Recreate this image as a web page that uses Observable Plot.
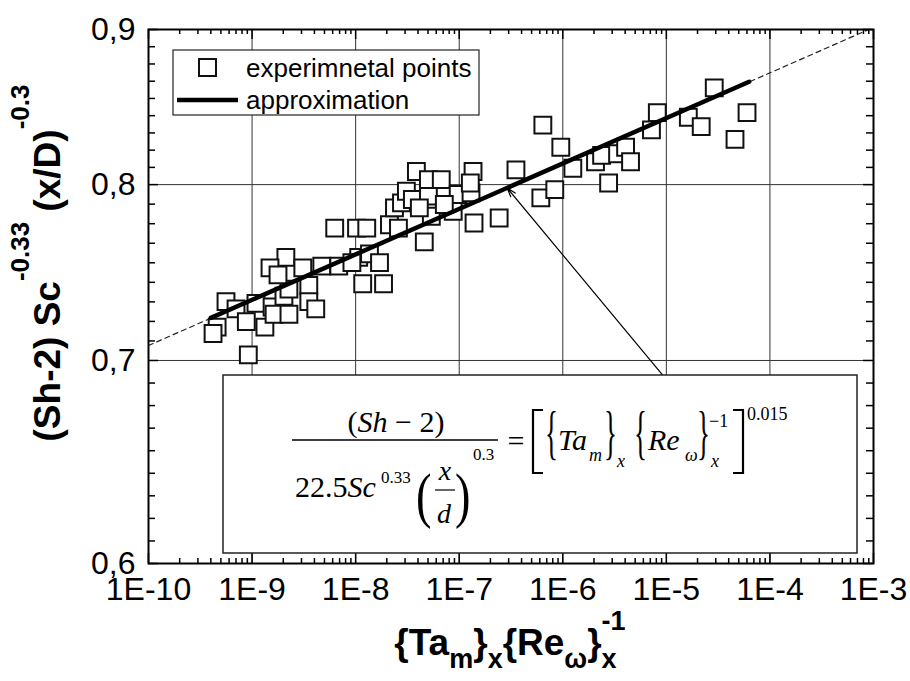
<!DOCTYPE html>
<html><head><meta charset="utf-8">
<script src="https://cdn.jsdelivr.net/npm/d3@7"></script>
<script src="https://cdn.jsdelivr.net/npm/@observablehq/plot@0.6"></script>
<style>html,body{margin:0;padding:0;background:#fff}</style>
</head><body><div id="chart"></div>
<script>
// ---- data ----
const xTicks = [1e-10, 1e-9, 1e-8, 1e-7, 1e-6, 1e-5, 1e-4, 1e-3];
const yTicks = [0.6, 0.7, 0.8, 0.9];
const pointX = [4.6e-10, 4.2e-10, 9.2e-10, 5.6e-10, 7.0e-10, 8.8e-10, 1.09e-9, 1.33e-9, 1.56e-9, 1.63e-9,
  2.27e-9, 2.03e-9, 2.27e-9, 2.12e-9, 1.49e-9, 1.78e-9, 3.09e-9, 4.71e-9, 6.87e-9, 3.53e-9,
  3.53e-9, 4.12e-9, 6.28e-9, 1.02e-8, 1.28e-8, 1.07e-8, 1.36e-8, 1.70e-8, 9.2e-9, 1.17e-8,
  1.86e-8, 2.12e-8, 2.59e-8, 4.60e-8, 2.37e-8, 2.77e-8, 3.09e-8, 3.53e-8, 5.04e-8, 3.86e-8,
  5.04e-8, 6.71e-8, 1.36e-7, 3.53e-7, 5.38e-8, 8.75e-8, 9.77e-8, 1.30e-7, 1.39e-7, 2.43e-7,
  6.14e-7, 8.37e-7, 2.77e-6, 6.42e-7, 9.57e-7, 1.25e-6, 2.07e-6, 2.37e-6, 3.38e-6, 4.04e-6,
  4.51e-6, 8.18e-6, 7.18e-6, 1.63e-5, 2.17e-5, 2.90e-5, 6.01e-5, 4.60e-5, 4.12e-8, 7.18e-8, 1.28e-7];
const pointY = [0.718, 0.7145, 0.703, 0.732, 0.728, 0.721, 0.731, 0.718, 0.729, 0.725,
  0.725, 0.735, 0.739, 0.757, 0.751, 0.747, 0.751, 0.752, 0.752, 0.741,
  0.732, 0.728, 0.774, 0.774, 0.774, 0.757, 0.759, 0.754, 0.754, 0.742,
  0.742, 0.776, 0.774, 0.766, 0.786, 0.789, 0.796, 0.791, 0.793, 0.808,
  0.803, 0.803, 0.808, 0.809, 0.781, 0.784, 0.794, 0.795, 0.777, 0.780,
  0.792, 0.797, 0.801, 0.837, 0.823, 0.810, 0.814, 0.818, 0.819, 0.823,
  0.814, 0.845, 0.834, 0.842, 0.836, 0.861, 0.845, 0.828, 0.786, 0.788, 0.801];
const fitX = [4.0e-10, 6.3e-5];
const fitY = [0.723, 0.865];
const extX = [1e-10, 9.0e-4];
const extY = [0.708, 0.900];
const arrowFrom = [9.3e-6, 0.692];
const arrowTo = [2.9e-7, 0.798];

// ---- layout ----
const W = 910, H = 681, ML = 148, MR = 37, MT = 29, MB = 118;
const FW = W - ML - MR, FH = H - MT - MB;

const points = pointX.map((x, i) => ({x, y: pointY[i]}));
const fit = fitX.map((x, i) => ({x, y: fitY[i]}));
const ext = extX.map((x, i) => ({x, y: extY[i]}));
const xMinor = [];
for (let i = 0; i < xTicks.length - 1; i++) for (let m = 2; m <= 9; m++) xMinor.push(m * xTicks[i]);
const yMinor = [];
for (let i = 0; i < yTicks.length - 1; i++) {
  const a = yTicks[i], b = yTicks[i + 1];
  for (let k = 1; k <= 8; k++) yMinor.push(a * Math.pow(b / a, k / 9));
}

const svg = Plot.plot({
  width: W, height: H,
  marginLeft: ML, marginRight: MR, marginTop: MT, marginBottom: MB,
  x: {type: "log", domain: [1e-10, 1e-3]},
  y: {type: "log", domain: [0.6, 0.9]},
  style: {fontFamily: "'Liberation Sans', Arial, sans-serif", fontSize: "32px", color: "#000", background: "#fff"},
  marks: [
    Plot.ruleX(xTicks.slice(1, -1), {stroke: "#333", strokeWidth: 1}),
    Plot.ruleY([0.7, 0.8], {stroke: "#333", strokeWidth: 1}),
    Plot.line(ext, {x: "x", y: "y", stroke: "#222", strokeWidth: 1.2, strokeDasharray: "5,4"}),
    Plot.dot(points, {x: "x", y: "y", symbol: "square", r: 9.5, fill: "white", stroke: "#111", strokeWidth: 2}),
    Plot.line(fit, {x: "x", y: "y", stroke: "#000", strokeWidth: 4.5}),
    Plot.arrow([{x1: arrowFrom[0], y1: arrowFrom[1], x2: arrowTo[0], y2: arrowTo[1]}],
      {x1: "x1", y1: "y1", x2: "x2", y2: "y2", stroke: "#000", strokeWidth: 1.2, headLength: 12, headAngle: 35}),
    Plot.ruleX(xTicks, {insetTop: FH - 10, stroke: "#000", strokeWidth: 1.5}),
    Plot.ruleX(xTicks, {insetBottom: FH - 10, stroke: "#000", strokeWidth: 1.5}),
    Plot.ruleX(xMinor, {insetTop: FH - 5, stroke: "#000", strokeWidth: 1.5}),
    Plot.ruleX(xMinor, {insetBottom: FH - 5, stroke: "#000", strokeWidth: 1.5}),
    Plot.ruleY(yTicks, {insetRight: FW - 10, stroke: "#000", strokeWidth: 1.5}),
    Plot.ruleY(yTicks, {insetLeft: FW - 10, stroke: "#000", strokeWidth: 1.5}),
    Plot.ruleY(yMinor, {insetRight: FW - 7, stroke: "#000", strokeWidth: 1.5}),
    Plot.ruleY(yMinor, {insetLeft: FW - 7, stroke: "#000", strokeWidth: 1.5}),
    Plot.axisX(xTicks, {tickSize: 0, tickPadding: 14, fontSize: 32, label: null,
      tickFormat: d => "1E" + Math.round(Math.log10(d))}),
    Plot.axisY(yTicks, {tickSize: 0, tickPadding: 13, fontSize: 32, label: null,
      tickFormat: d => d.toFixed(1).replace(".", ",")}),
    Plot.frame({stroke: "#000", strokeWidth: 2})
  ]
});
document.getElementById("chart").appendChild(svg);

const s = d3.select(svg);
const sans = "'Liberation Sans', Arial, sans-serif";
const serif = "'Liberation Serif', 'Times New Roman', serif";

// legend
const lg = s.append("g").attr("text-anchor", "start");
lg.append("rect").attr("x", 173).attr("y", 50).attr("width", 306).attr("height", 65)
  .attr("fill", "#fff").attr("stroke", "#222").attr("stroke-width", 1.2);
lg.append("rect").attr("x", 199).attr("y", 59).attr("width", 17).attr("height", 17)
  .attr("fill", "#fff").attr("stroke", "#111").attr("stroke-width", 2);
lg.append("text").attr("x", 246).attr("y", 68).attr("dy", "0.35em").attr("font-family", sans)
  .attr("font-size", 26).attr("fill", "#000").text("experimnetal points");
lg.append("line").attr("x1", 177).attr("x2", 238).attr("y1", 100).attr("y2", 100)
  .attr("stroke", "#000").attr("stroke-width", 4.5);
lg.append("text").attr("x", 246).attr("y", 100).attr("dy", "0.35em").attr("font-family", sans)
  .attr("font-size", 26).attr("fill", "#000").text("approximation");

// formula box
const fb = s.append("g").attr("font-family", serif).attr("fill", "#000").attr("text-anchor", "start");
fb.append("rect").attr("x", 223).attr("y", 375).attr("width", 634).attr("height", 178)
  .attr("fill", "#fff").attr("stroke", "#222").attr("stroke-width", 1.5);
function t(x, y, size, str, italic, anchor) {
  return fb.append("text").attr("x", x).attr("y", y).attr("font-size", size)
    .attr("font-style", italic ? "italic" : "normal").attr("text-anchor", anchor || "start").text(str);
}
const num = fb.append("text").attr("x", 396).attr("y", 432).attr("font-size", 30).attr("text-anchor", "middle");
num.append("tspan").text("(");
num.append("tspan").attr("font-style", "italic").text("Sh");
num.append("tspan").text(" \u2212 2)");
fb.append("line").attr("x1", 292).attr("x2", 498).attr("y1", 440).attr("y2", 440).attr("stroke", "#000").attr("stroke-width", 1.3);
const den = fb.append("text").attr("x", 295).attr("y", 497).attr("font-size", 30).attr("text-anchor", "start");
den.append("tspan").text("22.5");
den.append("tspan").attr("font-style", "italic").text("Sc");
t(381, 483, 17, "0.33");
function big(x, y, ch, sx, size) {
  fb.append("text").attr("text-anchor", "start").attr("transform", `translate(${x},${y}) scale(${sx},1)`)
    .attr("font-size", size).text(ch);
}
big(416, 516, "(", 0.75, 62);
t(445, 480, 28, "x", true, "middle");
fb.append("line").attr("x1", 435).attr("x2", 455).attr("y1", 490).attr("y2", 490).attr("stroke", "#000").attr("stroke-width", 1.2);
t(444, 523, 28, "d", true, "middle");
big(455, 516, ")", 0.75, 62);
t(473, 460, 17, "0.3");
t(516, 451, 30, "=", false, "middle");
fb.append("path").attr("d", "M543,410H533V473H543").attr("fill", "none").attr("stroke", "#000").attr("stroke-width", 2.2);
fb.append("path").attr("d", "M733,410H743V473H733").attr("fill", "none").attr("stroke", "#000").attr("stroke-width", 2.2);
big(545, 452, "{", 0.45, 60);
t(558, 450, 30, "Ta", true);
t(589, 461, 18, "m", true);
big(604, 452, "}", 0.45, 60);
t(617, 467, 18, "x", true);
big(634, 452, "{", 0.45, 60);
t(648, 450, 30, "Re", true);
t(685, 461, 18, "\u03C9", true);
big(697, 452, "}", 0.45, 60);
t(709, 427, 18, "\u22121");
t(711, 467, 18, "x", true);
t(747, 420, 18, "0.015");

// axis titles
const yl = s.append("text").attr("transform", "translate(60,263) rotate(-90)")
  .attr("text-anchor", "middle").attr("font-family", sans).attr("font-weight", "bold")
  .attr("font-size", 37).attr("fill", "#000");
yl.append("tspan").text("(Sh-2) Sc");
yl.append("tspan").attr("font-size", 26).attr("dy", -31).text("-0.33");
yl.append("tspan").attr("dy", 31).text(" (x/D)");
yl.append("tspan").attr("font-size", 26).attr("dy", -31).text("-0.3");

const xl = s.append("text").attr("x", 510).attr("y", 655)
  .attr("text-anchor", "middle").attr("font-family", sans).attr("font-weight", "bold")
  .attr("font-size", 37).attr("fill", "#000");
xl.append("tspan").text("{Ta");
xl.append("tspan").attr("font-size", 27).attr("dy", 13).text("m");
xl.append("tspan").attr("dy", -13).text("}");
xl.append("tspan").attr("font-size", 27).attr("dy", 13).text("x");
xl.append("tspan").attr("dy", -13).text("{Re");
xl.append("tspan").attr("font-size", 27).attr("dy", 13).text("\u03C9");
xl.append("tspan").attr("dy", -13).text("}");
xl.append("tspan").attr("font-size", 27).attr("dy", 13).text("x");
xl.append("tspan").attr("font-size", 27).attr("dy", -38).attr("dx", -15).text("-1");
</script>
</body></html>
